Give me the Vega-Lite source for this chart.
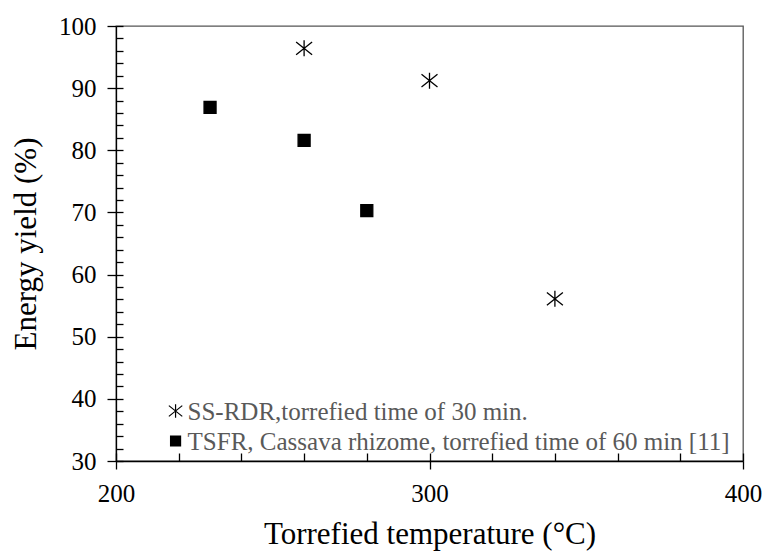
{
  "$schema": "https://vega.github.io/schema/vega-lite/v6.json",
  "autosize": "none",
  "width": 627,
  "height": 435,
  "padding": {"left": 116, "top": 26, "right": 24, "bottom": 98},
  "background": "white",
  "config": {
    "view": {"stroke": "#555555", "strokeWidth": 1.3},
    "font": "Liberation Serif",
    "axis": {"grid": false, "labelFlush": false, "domainColor": "black", "tickColor": "black", "domainWidth": 1.3, "tickWidth": 1.3, "labelFont": "Liberation Serif", "titleFont": "Liberation Serif", "labelColor": "black", "titleColor": "black", "labelFontSize": 25, "titleFontSize": 31, "titleFontWeight": "normal"}
  },
  "data": {
    "values": [
      {"series": "SS-RDR,torrefied time of 30 min.", "temperature": 260, "yield": 96.4},
      {"series": "SS-RDR,torrefied time of 30 min.", "temperature": 300, "yield": 91.2},
      {"series": "SS-RDR,torrefied time of 30 min.", "temperature": 340, "yield": 56.1},
      {"series": "TSFR, Cassava rhizome, torrefied time of 60 min [11]", "temperature": 230, "yield": 86.9},
      {"series": "TSFR, Cassava rhizome, torrefied time of 60 min [11]", "temperature": 260, "yield": 81.6},
      {"series": "TSFR, Cassava rhizome, torrefied time of 60 min [11]", "temperature": 280, "yield": 70.3}
    ]
  },
  "resolve": {"axis": {"x": "independent", "y": "independent"}, "scale": {"y": "independent", "size": "independent"}},
  "layer": [
    {
      "mark": {"type": "point", "opacity": 0},
      "encoding": {
        "x": {"field": "temperature", "type": "quantitative", "scale": {"domain": [200, 400], "nice": false, "zero": false},
          "axis": {"orient": "bottom", "values": [200, 220, 240, 260, 280, 300, 320, 340, 360, 380, 400], "tickSize": -8, "labels": false, "domain": false, "title": null}},
        "y": {"field": "yield", "type": "quantitative", "scale": {"domain": [30, 100], "nice": false, "zero": false},
          "axis": {"orient": "left", "values": [30, 32, 34, 36, 38, 40, 42, 44, 46, 48, 50, 52, 54, 56, 58, 60, 62, 64, 66, 68, 70, 72, 74, 76, 78, 80, 82, 84, 86, 88, 90, 92, 94, 96, 98, 100], "tickSize": -7, "labels": false, "domain": false, "title": null}}
      }
    },
    {
      "mark": {"type": "point", "strokeWidth": 1.3, "opacity": 1, "stroke": "black"},
      "encoding": {
        "x": {"field": "temperature", "type": "quantitative", "scale": {"domain": [200, 400], "nice": false, "zero": false},
          "axis": {"orient": "bottom", "values": [200, 300, 400], "tickSize": 8, "labelPadding": 12, "title": "Torrefied temperature (°C)", "titlePadding": 13}},
        "y": {"field": "yield", "type": "quantitative", "scale": {"domain": [30, 100], "nice": false, "zero": false},
          "axis": {"orient": "left", "values": [30, 40, 50, 60, 70, 80, 90, 100], "tickSize": 9, "labelPadding": 11, "title": "Energy yield (%)", "titlePadding": 16}},
        "shape": {"field": "series", "type": "nominal",
          "scale": {"domain": ["SS-RDR,torrefied time of 30 min.", "TSFR, Cassava rhizome, torrefied time of 60 min [11]"], "range": ["M0,-1L0,1M-1,-0.8L1,0.8M-1,0.8L1,-0.8", "square"]},
          "legend": null},
        "fill": {"field": "series", "type": "nominal",
          "scale": {"domain": ["SS-RDR,torrefied time of 30 min.", "TSFR, Cassava rhizome, torrefied time of 60 min [11]"], "range": ["transparent", "black"]}, "legend": null},
        "size": {"field": "series", "type": "nominal",
          "scale": {"domain": ["SS-RDR,torrefied time of 30 min.", "TSFR, Cassava rhizome, torrefied time of 60 min [11]"], "range": [256, 144]}, "legend": null}
      }
    },
    {
      "transform": [{"aggregate": [{"op": "count", "as": "n"}], "groupby": ["series"]}],
      "mark": {"type": "point", "strokeWidth": 1.2, "opacity": 1, "stroke": "black"},
      "encoding": {
        "x": {"datum": 219, "axis": null},
        "y": {"field": "series", "type": "nominal", "scale": {"type": "point", "domain": ["SS-RDR,torrefied time of 30 min.", "TSFR, Cassava rhizome, torrefied time of 60 min [11]"], "range": [385, 415], "padding": 0}, "axis": null},
        "shape": {"field": "series", "type": "nominal", "legend": null},
        "fill": {"field": "series", "type": "nominal", "legend": null},
        "size": {"field": "series", "type": "nominal", "scale": {"domain": ["SS-RDR,torrefied time of 30 min.", "TSFR, Cassava rhizome, torrefied time of 60 min [11]"], "range": [180, 100]}, "legend": null}
      }
    },
    {
      "transform": [{"aggregate": [{"op": "count", "as": "n"}], "groupby": ["series"]}],
      "mark": {"type": "text", "align": "left", "baseline": "middle", "dx": 12, "dy": 1, "font": "Liberation Serif", "fontSize": 25, "color": "#595959"},
      "encoding": {
        "x": {"datum": 219, "axis": null},
        "y": {"field": "series", "type": "nominal", "scale": {"type": "point", "domain": ["SS-RDR,torrefied time of 30 min.", "TSFR, Cassava rhizome, torrefied time of 60 min [11]"], "range": [385, 415], "padding": 0}, "axis": null},
        "text": {"field": "series", "type": "nominal"}
      }
    }
  ]
}
